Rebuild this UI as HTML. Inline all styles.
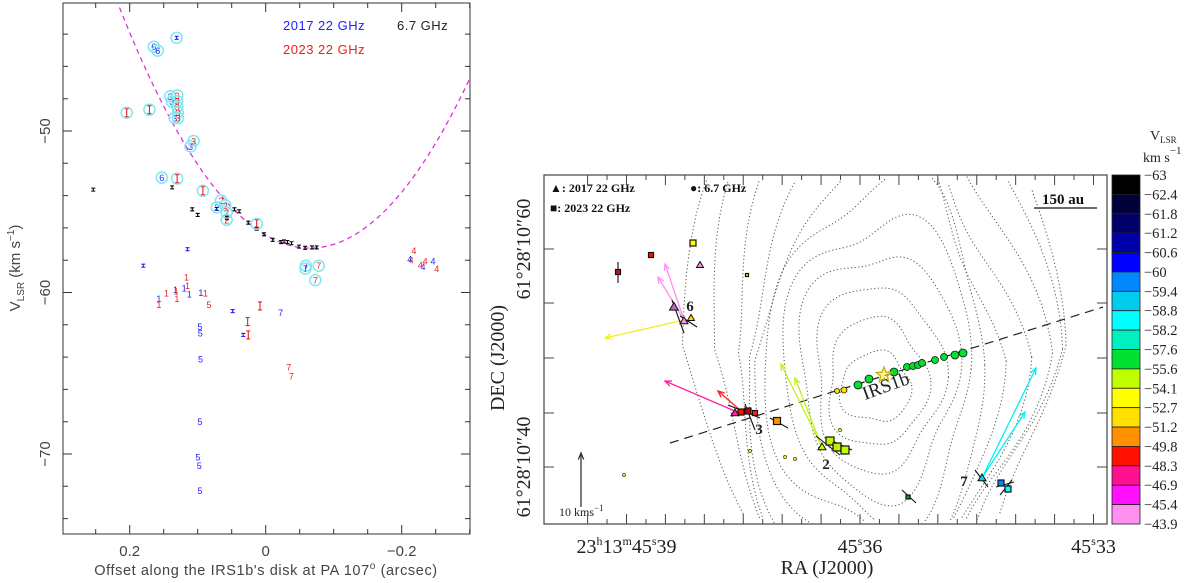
<!DOCTYPE html>
<html><head><meta charset="utf-8">
<style>
html,body{margin:0;padding:0;background:#fff;width:1200px;height:583px;overflow:hidden;}
svg{display:block;}
text{font-family:"Liberation Sans",sans-serif;}
.serif{font-family:"Liberation Serif",serif;}
</style></head>
<body>
<svg id="fig" width="1200" height="583" viewBox="0 0 1200 583" xmlns="http://www.w3.org/2000/svg" style="overflow:hidden">
  <g id="left"></g>
  <g id="right"></g>
</svg>
<script>
// ===== Left panel data (offset arcsec, velocity km/s, label) =====
const blackOff = [0.2536,0.1376,0.108,0.100,0.072,0.046,0.039,0.0256,0.0133,0.0025,-0.0103,-0.0226,-0.027,-0.032,-0.038,-0.049,-0.058,-0.068,-0.075,0.057];
const blackVel = [-53.63,-53.49,-54.85,-55.2,-54.83,-54.85,-54.97,-55.68,-56.05,-56.4,-56.74,-56.88,-56.84,-56.88,-56.95,-57.16,-57.23,-57.21,-57.21,-55.4];
const blueOff = [0.131,0.1646,0.1587,0.1405,0.1380,0.134,0.1106,0.1528,0.072,0.115,0.180,0.157,0.1327,0.120,0.1125,0.0953,0.0486,-0.022,0.033,0.0968,0.0963,0.0958,0.0968,0.0997,0.0978,0.0968,-0.059,-0.0585,-0.2118,-0.2314,-0.246];
const blueVel = [-44.23,-44.78,-45.03,-47.85,-48.17,-49.19,-50.95,-52.89,-54.73,-57.32,-58.34,-60.37,-59.82,-59.72,-60.09,-60.0,-61.15,-61.25,-62.63,-62.1,-62.5,-64.13,-67.99,-70.18,-70.7,-72.26,-58.34,-58.52,-57.94,-58.38,-58.06];
const blueLbl = ["I","6","6","3","3","3","3","6","2","I","I","1","1","1","1","1","I","7","I","5","5","5","5","5","5","5","7","7","4","4","4"];
const blueCirc = [1,1,1,1,1,1,1,1,1,0,0,0,0,0,0,0,0,0,0,0,0,0,0,0,0,0,1,1,0,0,0];
const redOff = [0.2044,0.171,0.130,0.130,0.130,0.129,0.129,0.106,0.1302,0.0924,0.0658,0.0594,0.0574,0.0574,0.0133,0.0084,0.0265,0.0256,0.1165,0.1150,0.146,0.1317,0.1307,0.157,0.0885,0.0835,-0.0339,-0.0378,-0.078,-0.073,-0.218,-0.2138,-0.2275,-0.2344,-0.2516];
const redVel = [-48.87,-48.68,-47.8,-48.15,-48.5,-48.85,-49.2,-50.62,-52.95,-53.7,-54.3,-54.6,-55.05,-55.5,-55.75,-60.83,-61.8,-62.63,-59.03,-59.58,-60.02,-59.9,-60.36,-60.74,-60.02,-60.74,-64.6,-65.17,-58.34,-59.24,-57.41,-57.98,-58.29,-58.06,-58.52];
const redLbl = ["I","I","3","3","3","3","3","3","I","I","2","2","2","2","I","I","I","I","1","1","1","1","1","1","1","5","7","7","7","7","4","4","4","4","4"];
const redCirc = [1,1,1,1,1,1,1,1,1,1,1,1,1,1,1,0,0,0,0,0,0,0,0,0,0,0,0,0,1,1,0,0,0,0,0];
const xTicks = [0.2,0,-0.2];
const xTickLbl = ["0.2","0","\u22120.2"];
const yTicks = [-50,-60,-70];
const yTickLbl = ["\u221250","\u221260","\u221270"];
const parab = {x0:-0.065, v0:-57.25, a:190};

// ===== Right panel data =====
const cbVals = ["-63","-62.4","-61.8","-61.2","-60.6","-60","-59.4","-58.8","-58.2","-57.6","-55.6","-54.1","-52.7","-51.2","-49.8","-48.3","-46.9","-45.4","-43.9"];
const cbColors = ["#000000","#00003a","#000068","#0000a8","#0000ff","#0088ff","#00ccf0","#00ffff","#00f0c0","#00e030","#c0ff00","#ffff00","#ffe000","#ff9000","#ff1000","#ff1090","#ff10ff","#ff90f0"];
const raTicksSec = [45.39,45.36,45.33];
const raTickLbl = ["45.39","45.36","45.33"];
const mmX = [837,844,858,869,894,907,913,918,922,935,944,955,963];
const mmY = [391,390,385,379,372,367,366,365,363,360,357,355,353];
const mmC = ["#ffe000","#ffe000","#00e030","#00e030","#00e030","#00e030","#00e030","#00e030","#00e030","#00e030","#00e030","#00e030","#00e030"];
const mmR = [2.5,3,4,4,4,3.5,3.5,3.5,3.5,3.5,3.5,4,4];

const NS="http://www.w3.org/2000/svg";
function el(tag, attrs, parent, txt){const e=document.createElementNS(NS,tag);for(const k in attrs)e.setAttribute(k,attrs[k]);if(txt!==undefined)e.textContent=txt;parent.appendChild(e);return e;}

// ---------- LEFT PANEL ----------
const L=document.getElementById('left');
const LX0=63,LX1=470,LY0=3,LY1=534;
const xs = o => 265.7 - o*680;
const ys = v => 131 + (-50 - v)*16.15;
let d="";
for(let o=0.3;o>=-0.32;o-=0.005){const v=parab.v0+parab.a*(o-parab.x0)*(o-parab.x0);const px=xs(o),py=ys(v);if(py<LY0||px>LX1)continue;d+=(d?"L":"M")+px.toFixed(1)+","+py.toFixed(1);}
const cp=el('path',{d:d,fill:"none",stroke:"#e020e0","stroke-width":1.2,"stroke-dasharray":"5,4"},L);


function drawSeries(offs,vels,lbls,circ,color,name){
  const g=el('g',{},L);
  
  
  for(let i=0;i<offs.length;i++){
    const px=xs(offs[i]),py=ys(vels[i]);
    if(circ&&circ[i]){const c=el('circle',{cx:px,cy:py,r:5.5,fill:"none",stroke:"#7fe8f0","stroke-width":1.5},g);}
    const lb=lbls?lbls[i]:"I";
    if(lb==="I"){
      const h=(color==="#e82020")?4:1.5;
      const p=el('path',{d:`M${px},${py-h}V${py+h}M${px-2},${py-h}h4M${px-2},${py+h}h4`,stroke:color,"stroke-width":1.1,fill:"none"},g);
      
    } else {
      const t=el('text',{x:px,y:py+3.5,"font-size":9,fill:color,"text-anchor":"middle"},g,lb);
      
    }
  }
}
drawSeries(blackOff,blackVel,null,null,"#000000","series-6p7ghz");
drawSeries(blueOff,blueVel,blueLbl,blueCirc,"#2020ff","series-2017-22ghz");
drawSeries(redOff,redVel,redLbl,redCirc,"#e82020","series-2023-22ghz");
const lf=el('rect',{x:LX0,y:LY0,width:LX1-LX0,height:LY1-LY0,fill:"none",stroke:"#333","stroke-width":1},L);

let tk="";
for(let o=0.3;o>=-0.3;o-=0.05){const px=xs(o);if(px<LX0||px>LX1)continue;const major=Math.abs(Math.round(o*5)-o*5)<1e-6;const len=major?9:5;tk+=`M${px},${LY0}v${len}M${px},${LY1}v${-len}`;}
for(let v=-42;v>=-75;v-=2){const py=ys(v);if(py<LY0||py>LY1)continue;const len=(v%10===0)?9:5;tk+=`M${LX0},${py}h${len}M${LX1},${py}h${-len}`;}
const lt=el('path',{d:tk,stroke:"#333","stroke-width":1,fill:"none"},L);
xTicks.forEach((o,i)=>{const t=el('text',{x:xs(o),y:556,"font-size":15,fill:"#444","text-anchor":"middle"},L,xTickLbl[i]);});
yTicks.forEach((v,i)=>{const t=el('text',{x:0,y:0,"font-size":15,fill:"#444","text-anchor":"middle",transform:`translate(50,${ys(v)}) rotate(-90)`},L,yTickLbl[i]);});
let t=el('text',{x:266,y:575,"font-size":14.5,fill:"#444","text-anchor":"middle","letter-spacing":"0.6"},L);

t.innerHTML='Offset along the IRS1b\'s disk at PA 107<tspan dy="-6" font-size="10">o</tspan><tspan dy="6"> (arcsec)</tspan>';
t=el('text',{x:0,y:0,"font-size":15,fill:"#444","text-anchor":"middle",transform:"translate(20,268) rotate(-90)"},L);

t.innerHTML='V<tspan dy="4" font-size="10">LSR</tspan><tspan dy="-4"> (km s</tspan><tspan dy="-6" font-size="10">\u22121</tspan><tspan dy="6">)</tspan>';
t=el('text',{x:283,y:30,"font-size":13,fill:"#2020ff","letter-spacing":"0.5"},L,"2017 22 GHz");
t=el('text',{x:397,y:30,"font-size":13,fill:"#222","letter-spacing":"0.5"},L,"6.7 GHz");
t=el('text',{x:283,y:54,"font-size":13,fill:"#e82020","letter-spacing":"0.5"},L,"2023 22 GHz");

// ---------- RIGHT PANEL ----------
const R=document.getElementById('right');
const RX0=544,RX1=1107,RY0=175,RY1=524;
const raX = s => 860 + (45.36 - s)*(233.5/0.03);
const decY = a => 249 + (60 - a)*(218/20);
const inner=el('g',{},R);

const cg=el('g',{fill:"none",stroke:"#555","stroke-width":1,"stroke-dasharray":"1.2,2.4"},inner);

for(let k=0;k<11;k++){
  const cx=878+k*1.5, cy=385-k*4;
  const rxL=38+k*15+(k>4?(k-4)*4:0), rxR=32+k*14, ryT=32+k*30, ryB=38+k*28;
  let p="", pen=false;
  for(let a=0;a<=360;a+=3){
    const r=a*Math.PI/180;const c=Math.cos(r),s=Math.sin(r);
    const rx=c<0?rxL:rxR, ry=s<0?ryT:ryB;
    const w=1+0.08*Math.sin(3*r+k)+0.05*Math.cos(5*r);
    const px=cx+rx*c*w*(1-0.25*Math.abs(s)*(k>5?1:0)), py=cy+ry*s*w;
    const inside = px>RX0+1 && px<RX1-1 && py>RY0+1 && py<RY1-1;
    if(inside){p+=(pen?"L":"M")+px.toFixed(1)+","+py.toFixed(1);pen=true;} else pen=false;
  }
  const cc=el('path',{d:p},cg);
}
let dl=el('line',{x1:670,y1:443,x2:1103,y2:307,stroke:"#222","stroke-width":1.2,"stroke-dasharray":"9,6"},inner);

function arrow(x1,y1,x2,y2,col,name){
  const g=el('g',{stroke:col,"stroke-width":1.3,fill:"none"},inner);
  
  el('line',{x1,y1,x2,y2},g);
  const ang=Math.atan2(y2-y1,x2-x1),L2=7,w=0.4;
  el('path',{d:`M${x2-L2*Math.cos(ang-w)},${y2-L2*Math.sin(ang-w)}L${x2},${y2}L${x2-L2*Math.cos(ang+w)},${y2-L2*Math.sin(ang+w)}`},g);
}
arrow(684,320,665,264,"#ff90f0","proper-motion-arrow");
arrow(684,320,658,277,"#ff90f0","proper-motion-arrow");
arrow(684,320,605,338,"#f0f020","proper-motion-arrow");
arrow(737,412,665,381,"#ff20a0","proper-motion-arrow");
arrow(740,410,718,391,"#ff2020","proper-motion-arrow");
arrow(822,447,781,364,"#c0f020","proper-motion-arrow");
arrow(822,447,795,378,"#c0f020","proper-motion-arrow");
arrow(982,478,1036,368,"#00f0f0","proper-motion-arrow");
arrow(982,478,1025,412,"#00f0f0","proper-motion-arrow");
const bars=[[618,262,618,283],[672,300,684,333],[680,316,697,327],[728,405,760,418],[745,404,755,430],[770,418,788,428],[816,436,840,455],[830,440,852,450],[902,490,916,503],[975,470,988,487],[996,487,1014,482],[1000,495,1012,480]];
bars.forEach(b=>{const l=el('line',{x1:b[0],y1:b[1],x2:b[2],y2:b[3],stroke:"#111","stroke-width":1.1},inner);});
function sq(x,y,s,col,name){const r=el('rect',{x:x-s/2,y:y-s/2,width:s,height:s,fill:col,stroke:"#111","stroke-width":1.2},inner);}
function tri(x,y,s,col,name){const p=el('path',{d:`M${x},${y-s}L${x+s},${y+s*0.7}L${x-s},${y+s*0.7}Z`,fill:col,stroke:"#111","stroke-width":1},inner);}
sq(618,272,5,"#c01010","spot-2023");sq(651,255,5,"#ff1000","spot-2023");sq(693,243,6,"#ffff00","spot-2023");
tri(700,265,3.5,"#ff90f0","spot-2017");tri(674,307,4.5,"#c060c0","spot-2017");tri(684,321,4,"#ff90f0","spot-2017");tri(691,318,3.5,"#ffe000","spot-2017");
sq(747,275,3,"#ffe000","spot-2023");
sq(741,412,6,"#ff1000","spot-2023");sq(748,411,6,"#c00000","spot-2023");tri(735,413,4,"#ff20a0","spot-2017");sq(755,413,5,"#ff2020","spot-2023");
sq(777,421,7,"#ff9000","spot-2023");
sq(830,441,8,"#c0ff00","spot-2023");sq(837,447,8,"#c0f000","spot-2023");sq(845,450,8,"#c0ff00","spot-2023");tri(822,447,4,"#c0ff00","spot-2017");
sq(908,497,4,"#00a030","spot-2023");
tri(982,478,4,"#00ccf0","spot-2017");sq(1001,483,6,"#0088ff","spot-2023");sq(1008,489,6,"#00ffff","spot-2023");
[[840,430],[750,451],[785,457],[795,459],[624,475]].forEach(p=>{const c=el('circle',{cx:p[0],cy:p[1],r:1.6,fill:"#ffe000",stroke:"#222","stroke-width":0.6},inner);});
for(let i=0;i<mmX.length;i++){const c=el('circle',{cx:mmX[i],cy:mmY[i],r:mmR[i],fill:mmC[i],stroke:"#111","stroke-width":0.8},inner);}
(function(){let p="";for(let i=0;i<10;i++){const r=i%2?3.5:8,a=-Math.PI/2+i*Math.PI/5;p+=(i?"L":"M")+(884+r*Math.cos(a)).toFixed(1)+","+(375+r*Math.sin(a)).toFixed(1);}const s=el('path',{d:p+"Z",fill:"#ffe84080",stroke:"#c8b000","stroke-width":1.3},inner);})();
t=el('text',{x:0,y:0,"font-size":19,fill:"#222",class:"serif",transform:"translate(865,400) rotate(-20)"},inner,"IRS1b");
[["6",690,311],["3",759,434],["2",826,469],["7",964,486]].forEach(a=>{const tt=el('text',{x:a[1],y:a[2],"font-size":15,"font-weight":"bold",fill:"#222",class:"serif","text-anchor":"middle"},inner,a[0]);});
arrow(581,507,581,453,"#333","velocity-scale-arrow");
t=el('text',{x:559,y:516,"font-size":12,fill:"#222",class:"serif"},inner);
t.innerHTML='10 kms<tspan dy="-5" font-size="9">\u22121</tspan>';
t=el('text',{x:550,y:192,"font-size":12,"font-weight":"bold",fill:"#111",class:"serif"},R,"\u25B2: 2017 22 GHz");
t=el('text',{x:550,y:212,"font-size":12,"font-weight":"bold",fill:"#111",class:"serif"},R,"\u25A0: 2023 22 GHz");
t=el('text',{x:690,y:192,"font-size":12,"font-weight":"bold",fill:"#111",class:"serif"},R,"\u25CF: 6.7 GHz");
t=el('text',{x:1042,y:204,"font-size":15,"font-weight":"bold",fill:"#111",class:"serif"},R,"150 au");
let sb=el('line',{x1:1034,y1:208,x2:1097,y2:208,stroke:"#111","stroke-width":1.2},R);
const rf=el('rect',{x:RX0,y:RY0,width:RX1-RX0,height:RY1-RY0,fill:"none",stroke:"#444","stroke-width":1.2},R);
let rt="";
for(let s=45.395;s>=45.325;s-=0.0025){const px=raX(s);if(px<RX0+2||px>RX1-2)continue;const major=Math.abs(Math.round(s*200)-s*200)<0.01;const len=major?10:5;rt+=`M${px},${RY0}v${len}M${px},${RY1}v${-len}`;}
[249,303,358,413,467].forEach(py=>{rt+=`M${RX0},${py}h10M${RX1},${py}h-10`;});
const rtk=el('path',{d:rt,stroke:"#444","stroke-width":1,fill:"none"},R);
t=el('text',{x:raX(45.39),y:553,"font-size":20,fill:"#222",class:"serif","text-anchor":"middle"},R);
t.innerHTML='23<tspan dy="-8" font-size="12">h</tspan><tspan dy="8">13</tspan><tspan dy="-8" font-size="12">m</tspan><tspan dy="8">45</tspan><tspan dy="-8" font-size="12">s</tspan><tspan dy="8">39</tspan>';
[1,2].forEach(i=>{const tt=el('text',{x:raX(raTicksSec[i]),y:553,"font-size":20,fill:"#222",class:"serif","text-anchor":"middle"},R);tt.innerHTML='45<tspan dy="-8" font-size="12">s</tspan><tspan dy="8">'+raTickLbl[i].slice(3)+'</tspan>';});
t=el('text',{x:827,y:574,"font-size":20,fill:"#222",class:"serif","text-anchor":"middle"},R,"RA (J2000)");
t=el('text',{x:0,y:0,"font-size":20,fill:"#222",class:"serif","text-anchor":"middle",transform:`translate(530,${decY(60)}) rotate(-90)`},R,"61\u00B028\u203210\u203360");
t=el('text',{x:0,y:0,"font-size":20,fill:"#222",class:"serif","text-anchor":"middle",transform:`translate(530,${decY(40)}) rotate(-90)`},R,"61\u00B028\u203210\u203340");
t=el('text',{x:0,y:0,"font-size":20,fill:"#222",class:"serif","text-anchor":"middle",transform:"translate(504,358) rotate(-90)"},R,"DEC (J2000)");
const CB0=175,CB1=524,segH=(CB1-CB0)/cbColors.length;
const cbg=el('g',{},R);
cbColors.forEach((c,i)=>{const r=el('rect',{x:1112,y:CB0+i*segH,width:28,height:segH,fill:c,stroke:"#222","stroke-width":0.8},cbg);});
cbVals.forEach((v,i)=>{const tt=el('text',{x:1144,y:CB0+i*segH+5,"font-size":14.5,fill:"#222",class:"serif"},cbg,v.replace("-","\u2212"));});
t=el('text',{x:1150,y:140,"font-size":14,fill:"#222",class:"serif"},R);
t.innerHTML='V<tspan dy="3" font-size="9">LSR</tspan>';
t=el('text',{x:1143,y:162,"font-size":14,fill:"#222",class:"serif"},R);
t.innerHTML='km s<tspan dy="-8" font-size="11">\u22121</tspan>';
</script>
</body></html>
